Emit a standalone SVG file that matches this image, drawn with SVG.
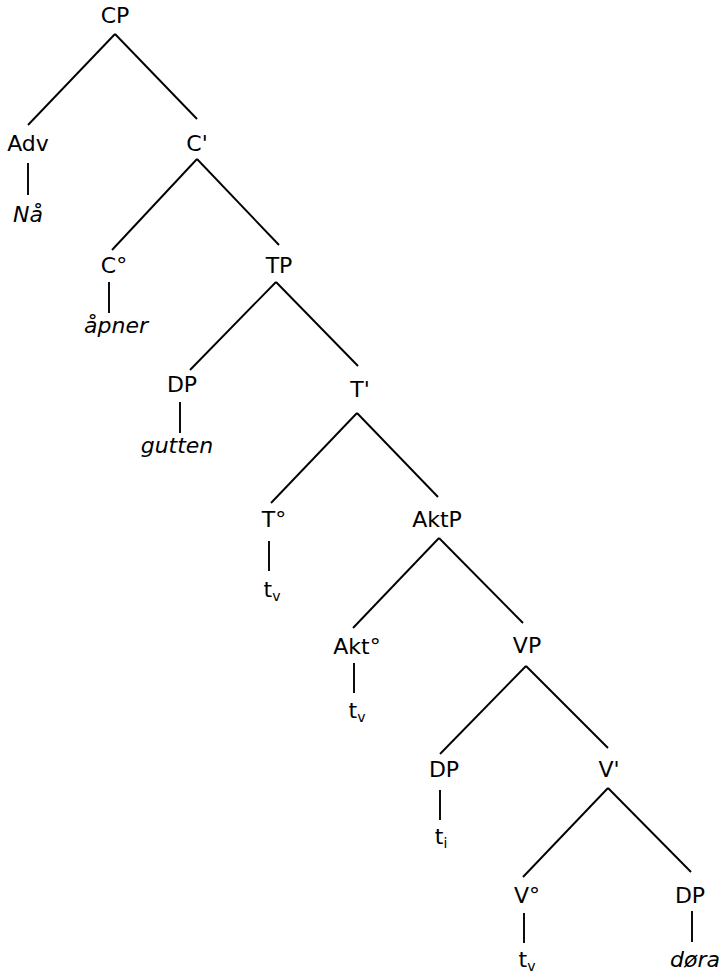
<svg xmlns="http://www.w3.org/2000/svg" width="721" height="973" viewBox="0 0 721 973">
<style>
text{font-family:"DejaVu Sans",Verdana,sans-serif;font-size:22px;fill:#000;text-anchor:middle}
.i{font-style:italic}
.s{font-size:14px}
#edges line{stroke:#000;stroke-width:1.9}
</style>
<rect width="721" height="973" fill="#fff"/>
<g id="edges">
<line x1="115" y1="34" x2="28" y2="125"/>
<line x1="115" y1="34" x2="197" y2="119"/>
<line x1="28" y1="163" x2="28" y2="195"/>
<line x1="197" y1="159" x2="112" y2="250"/>
<line x1="197" y1="159" x2="279" y2="245"/>
<line x1="109" y1="282" x2="109" y2="313"/>
<line x1="276" y1="282" x2="190" y2="370"/>
<line x1="276" y1="282" x2="358" y2="366"/>
<line x1="180" y1="402" x2="180" y2="433"/>
<line x1="357" y1="413" x2="271" y2="503"/>
<line x1="357" y1="413" x2="438" y2="497"/>
<line x1="269" y1="541" x2="269" y2="571"/>
<line x1="439" y1="538" x2="353" y2="628"/>
<line x1="439" y1="538" x2="523" y2="623"/>
<line x1="354" y1="663" x2="354" y2="693"/>
<line x1="526" y1="666" x2="440" y2="754"/>
<line x1="526" y1="666" x2="608" y2="748"/>
<line x1="440" y1="790" x2="440" y2="820"/>
<line x1="608" y1="788" x2="523" y2="877"/>
<line x1="608" y1="788" x2="691" y2="872"/>
<line x1="524" y1="913" x2="524" y2="943"/>
<line x1="692" y1="911" x2="692" y2="942"/>
</g>
<g id="CP"><text x="115" y="23">CP</text></g>
<g id="Adv"><text x="28" y="151">Adv</text></g>
<g id="Na"><text class="i" x="28" y="222">Nå</text></g>
<g id="Cbar"><text x="197" y="151">C'</text></g>
<g id="C0"><text x="114" y="273">C°</text></g>
<g id="apner"><text class="i" x="116" y="333">åpner</text></g>
<g id="TP"><text x="279" y="273">TP</text></g>
<g id="DP1"><text x="182" y="392">DP</text></g>
<g id="gutten"><text class="i" x="177" y="453">gutten</text></g>
<g id="Tbar"><text x="360" y="397">T'</text></g>
<g id="T0"><text x="274" y="527">T°</text></g>
<g id="tv1"><text x="272" y="597">t<tspan class="s" dy="4">v</tspan></text></g>
<g id="AktP"><text x="437" y="527">AktP</text></g>
<g id="Akt0"><text x="357" y="654">Akt°</text></g>
<g id="tv2"><text x="357" y="718">t<tspan class="s" dy="4">v</tspan></text></g>
<g id="VP"><text x="527" y="653">VP</text></g>
<g id="DP2"><text x="444" y="777">DP</text></g>
<g id="ti"><text x="441" y="844">t<tspan class="s" dy="4">i</tspan></text></g>
<g id="Vbar"><text x="609" y="777">V'</text></g>
<g id="V0"><text x="527" y="903">V°</text></g>
<g id="tv3"><text x="527" y="967">t<tspan class="s" dy="4">v</tspan></text></g>
<g id="DP3"><text x="690" y="903">DP</text></g>
<g id="dora"><text class="i" x="695" y="967">døra</text></g>
</svg>
